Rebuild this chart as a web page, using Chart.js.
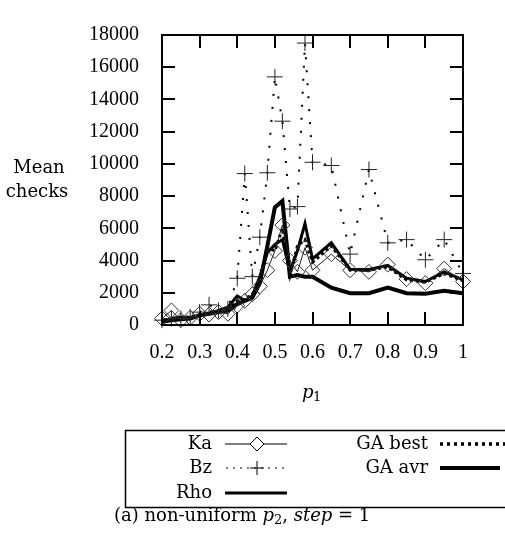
<!DOCTYPE html>
<html>
<head>
<meta charset="utf-8">
<script src="https://cdn.jsdelivr.net/npm/chart.js@4.4.0/dist/chart.umd.min.js"></script>
<style>
  html, body { margin: 0; padding: 0; background: #fff; }
  #wrap { width: 505px; height: 533px; position: relative; }
</style>
</head>
<body>
<div id="wrap"><canvas id="chart" width="505" height="533"></canvas></div>
<script>
// ======= DATA =======
const pValues = [0.2, 0.225, 0.25, 0.275, 0.3, 0.325, 0.35, 0.375, 0.4, 0.42, 0.44, 0.46, 0.48, 0.5, 0.52, 0.54, 0.56, 0.58, 0.6, 0.65, 0.7, 0.75, 0.8, 0.85, 0.9, 0.95, 1];
const ka     = [400, 900, 300, 450, 700, 650, 800, 700, 1200, 1500, 1900, 2400, 3400, 4600, 6200, 4000, 3300, 4800, 3400, 4400, 3400, 3300, 3750, 2850, 2600, 3500, 2700];
const bz     = [300, 400, 400, 500, 800, 1250, 900, 1000, 2900, 9400, 3000, 5450, 9450, 15400, 12650, 7200, 7350, 17500, 10100, 9900, 4400, 9650, 5100, 5300, 4050, 5300, 3200];
const rho    = [200, 400, 500, 450, 600, 700, 900, 1100, 1800, 1500, 1800, 3000, 4500, 5000, 5300, 3300, 4600, 6300, 4100, 5100, 3450, 3450, 3700, 2900, 2700, 3300, 2800];
const gaBest = [250, 350, 450, 500, 650, 750, 850, 1000, 1500, 1600, 1900, 2800, 4800, 4600, 6000, 3100, 4900, 5300, 3900, 4900, 3400, 3400, 3600, 2800, 2650, 3200, 2750];
const gaAvr  = [200, 300, 350, 400, 600, 700, 800, 900, 1300, 1500, 1700, 2600, 4900, 7300, 7700, 3000, 3100, 3000, 3000, 2320, 1970, 1970, 2320, 1970, 1940, 2130, 1970];

const xTicks = [0.2, 0.3, 0.4, 0.5, 0.6, 0.7, 0.8, 0.9, 1];
const yTicks = [0, 2000, 4000, 6000, 8000, 10000, 12000, 14000, 16000, 18000];

const NUMFONT = '"Liberation Serif", serif';
const TXTFONT = '"DejaVu Serif", serif';

function pts(arr) {
  return pValues.map((p, i) => ({ x: p, y: arr[i] }));
}

// ======= DECORATION (frame, ticks, titles, legend, caption) =======
const decor = {
  id: "decor",
  afterDraw(chart) {
    const { ctx, chartArea: a, scales } = chart;
    const xs = scales.x, ys = scales.y;
    ctx.save();
    ctx.strokeStyle = "#000";
    ctx.lineWidth = 2;
    ctx.strokeRect(a.left, a.top, a.right - a.left, a.bottom - a.top);

    // inward ticks on all four sides
    const t = 13;
    ctx.beginPath();
    xTicks.forEach((v) => {
      const x = Math.round(xs.getPixelForValue(v));
      ctx.moveTo(x, a.bottom); ctx.lineTo(x, a.bottom - t);
      ctx.moveTo(x, a.top); ctx.lineTo(x, a.top + t);
    });
    yTicks.forEach((v) => {
      const y = Math.round(ys.getPixelForValue(v));
      ctx.moveTo(a.left, y); ctx.lineTo(a.left + t, y);
      ctx.moveTo(a.right, y); ctx.lineTo(a.right - t, y);
    });
    ctx.stroke();

    ctx.fillStyle = "#000";
    ctx.font = "18px " + TXTFONT;
    ctx.textBaseline = "middle";
    ctx.textAlign = "center";
    ctx.fillText("Mean", 39, 168);
    ctx.fillText("checks", 37, 192);

    // x title p1
    ctx.font = "italic 18px " + TXTFONT;
    ctx.textAlign = "left";
    ctx.fillText("p", 302, 393);
    ctx.font = "13px " + TXTFONT;
    ctx.fillText("1", 313, 398);

    // legend box
    ctx.lineWidth = 1.5;
    ctx.strokeRect(125.5, 430.5, 400, 77);
    ctx.font = "18px " + TXTFONT;
    ctx.textAlign = "right";
    const rows = [444, 468, 493];
    ctx.fillText("Ka", 212, rows[0]);
    ctx.fillText("Bz", 212, rows[1]);
    ctx.fillText("Rho", 212, rows[2]);
    ctx.fillText("GA best", 428, rows[0]);
    ctx.fillText("GA avr", 428, rows[1]);

    // Ka sample
    ctx.lineWidth = 1;
    ctx.beginPath();
    ctx.moveTo(225, rows[0]); ctx.lineTo(250, rows[0]);
    ctx.moveTo(264, rows[0]); ctx.lineTo(287, rows[0]);
    ctx.moveTo(257, rows[0] - 7); ctx.lineTo(264, rows[0]);
    ctx.lineTo(257, rows[0] + 7); ctx.lineTo(250, rows[0]); ctx.closePath();
    ctx.stroke();
    // Bz sample
    ctx.setLineDash([2, 5]);
    ctx.beginPath();
    ctx.moveTo(226, rows[1]); ctx.lineTo(288, rows[1]);
    ctx.stroke();
    ctx.setLineDash([]);
    ctx.beginPath();
    ctx.moveTo(250, rows[1]); ctx.lineTo(264, rows[1]);
    ctx.moveTo(257, rows[1] - 7); ctx.lineTo(257, rows[1] + 7);
    ctx.stroke();
    // Rho sample
    ctx.lineWidth = 3;
    ctx.beginPath();
    ctx.moveTo(225, rows[2]); ctx.lineTo(287, rows[2]);
    ctx.stroke();
    // GA best sample
    ctx.lineWidth = 3.5;
    ctx.setLineDash([3, 4]);
    ctx.beginPath();
    ctx.moveTo(440, rows[0]); ctx.lineTo(505, rows[0]);
    ctx.stroke();
    ctx.setLineDash([]);
    // GA avr sample
    ctx.lineWidth = 4;
    ctx.beginPath();
    ctx.moveTo(440, rows[1]); ctx.lineTo(500, rows[1]);
    ctx.stroke();

    // caption
    ctx.textAlign = "left";
    let x = 114;
    const cy = 516;
    const put = (txt, font, dy = 0) => {
      ctx.font = font;
      ctx.fillText(txt, x, cy + dy);
      x += ctx.measureText(txt).width;
    };
    put("(a) non-uniform ", "18px " + TXTFONT);
    put("p", "italic 18px " + TXTFONT);
    put("2", "13px " + TXTFONT, 5);
    put(", ", "18px " + TXTFONT);
    put("step", "italic 18px " + TXTFONT);
    put(" = 1", "18px " + TXTFONT);
    ctx.restore();
  },
};

// ======= CHART =======
new Chart(document.getElementById("chart"), {
  type: "scatter",
  data: {
    datasets: [
      {
        label: "Ka",
        data: pts(ka),
        showLine: true,
        borderColor: "#222",
        borderWidth: 1,
        pointStyle: "rectRot",
        pointRadius: 7.5,
        pointBorderColor: "#333",
        pointBackgroundColor: "rgba(0,0,0,0)",
        pointBorderWidth: 1,
        clip: false,
      },
      {
        label: "Bz",
        data: pts(bz),
        showLine: true,
        borderColor: "#000",
        borderWidth: 2,
        borderDash: [2, 11],
        pointStyle: "cross",
        pointRadius: 8,
        pointBorderColor: "#222",
        pointBorderWidth: 1,
        clip: false,
      },
      {
        label: "Rho",
        data: pts(rho),
        showLine: true,
        borderColor: "#000",
        borderWidth: 3,
        pointRadius: 0,
      },
      {
        label: "GA best",
        data: pts(gaBest),
        showLine: true,
        borderColor: "#000",
        borderWidth: 3,
        borderDash: [3, 3],
        pointRadius: 0,
      },
      {
        label: "GA avr",
        data: pts(gaAvr),
        showLine: true,
        borderColor: "#000",
        borderWidth: 4,
        pointRadius: 0,
      },
    ],
  },
  options: {
    responsive: false,
    animation: false,
    events: [],
    layout: { padding: { top: 15, right: 42, left: 0, bottom: 0 } },
    plugins: { legend: { display: false }, tooltip: { enabled: false } },
    scales: {
      x: {
        type: "linear",
        min: 0.2,
        max: 1,
        grid: { display: false, drawTicks: false },
        border: { display: false },
        afterFit: (s) => { s.height = 208; },
        afterBuildTicks: (s) => { s.ticks = xTicks.map((v) => ({ value: v })); },
        ticks: {
          padding: 16,
          color: "#000",
          font: { family: NUMFONT, size: 20 },
          maxRotation: 0,
          autoSkip: false,
          callback: (v) => String(Math.round(v * 10) / 10),
        },
      },
      y: {
        min: 0,
        max: 18000,
        grid: { display: false, drawTicks: false },
        border: { display: false },
        afterFit: (s) => { s.width = 162; },
        afterBuildTicks: (s) => { s.ticks = yTicks.map((v) => ({ value: v })); },
        ticks: {
          padding: 23,
          color: "#000",
          font: { family: NUMFONT, size: 20 },
          autoSkip: false,
          callback: (v) => String(v),
        },
      },
    },
  },
  plugins: [decor],
});
</script>
</body>
</html>
